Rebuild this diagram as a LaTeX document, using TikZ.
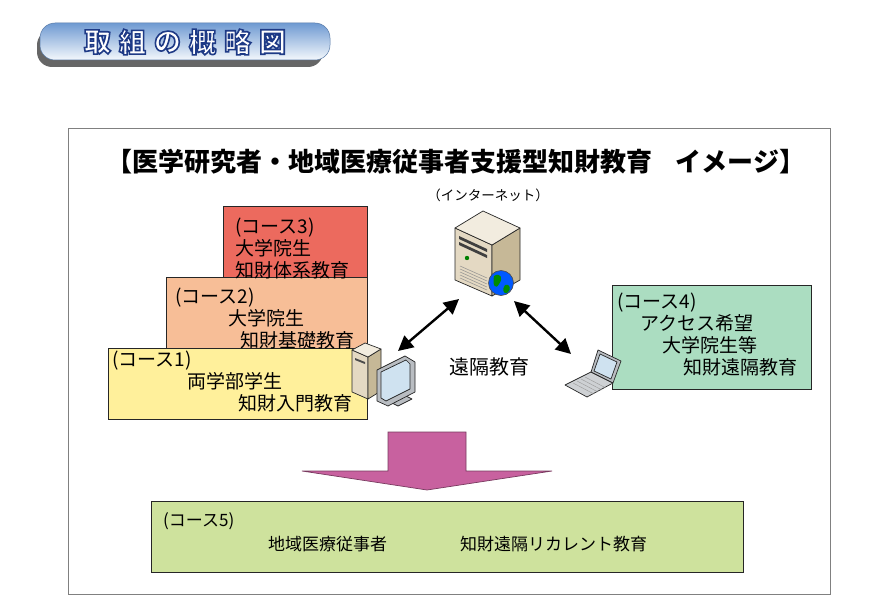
\documentclass[tikz,border=0pt]{standalone}
\usepackage{fontspec}
\newfontfamily\jp{Noto Sans CJK JP}
\usetikzlibrary{calc,arrows.meta}
\definecolor{frame}{HTML}{808080}
\definecolor{tabtop}{HTML}{6F9AD2}
\definecolor{tabmid}{HTML}{B4CDEC}
\definecolor{tabbot}{HTML}{F4F8FC}
\definecolor{tabedge}{HTML}{1E3A86}
\definecolor{cthree}{HTML}{EC6A5E}
\definecolor{ctwo}{HTML}{F7BE97}
\definecolor{cone}{HTML}{FFF09B}
\definecolor{cfour}{HTML}{ABDDC1}
\definecolor{cfive}{HTML}{CEE29D}
\definecolor{pink}{HTML}{C8619F}
\definecolor{beige}{HTML}{E4D9C3}
\definecolor{beigedark}{HTML}{C6B897}
\definecolor{beigetop}{HTML}{F2ECDF}
\definecolor{screen}{HTML}{CFE2F0}
\definecolor{metal}{HTML}{B9BDC2}
% white glyphs with a dark blue stroke (text render mode 2)
\newcommand\outlined[1]{{\color{white}%
  \special{pdf:literal direct 2 Tr 1.6 w 0.118 0.227 0.525 RG}#1%
  \special{pdf:literal direct 0 Tr}}}
\tikzset{
  course/.style={draw=black!85, line width=0.8pt, anchor=north west, inner sep=0pt},
  coursetxt/.style={anchor=north west, align=left, inner sep=0pt,
    font=\jp\fontsize{19}{21.8}\selectfont},
  tabtxt/.style={inner sep=0pt, font=\jp\bfseries\fontsize{27}{27}\selectfont},
  icon/.style={draw=black!85, line width=0.7pt, line join=round},
  link/.style={line width=2.4pt, {Triangle[length=15pt,width=15pt]}-{Triangle[length=15pt,width=15pt]}},
}

\begin{document}
\begin{tikzpicture}[x=1pt,y=-1pt]
  \useasboundingbox[fill=white] (0,0) rectangle (872,599);

  % heading tab
  \fill[black!60, rounded corners=15pt] (37,30) rectangle (323,67);
  \shade[top color=tabtop, middle color=tabmid, bottom color=tabbot,
    rounded corners=15pt] (40,23) rectangle (330,60);
  \draw[tabtop!80!black, line width=0.5pt, rounded corners=15pt] (40,23) rectangle (330,60);
  \foreach \c [count=\i] in {取,組,の,概,略,図}
    \node[tabtxt] (tab\i) at (62.5+35*\i,42) {\outlined{\c}};

  % frame and heading
  \draw[frame, line width=0.8pt] (68,128) rectangle (830,594);
  \node[font=\jp\bfseries\fontsize{26}{26}\selectfont] (title) at (456,162)
    {【医学研究者・地域医療従事者支援型知財教育\hspace{0.9em}イメージ】};
  \node[font=\jp\fontsize{13.5}{13.5}\selectfont] (net) at (488,195) {（インターネット）};

  % course boxes
  \node[course, fill=cthree, minimum width=144, minimum height=71] (c3) at (223,206) {};
  \node[course, fill=ctwo, minimum width=201, minimum height=71] (c2) at (166,277) {};
  \node[course, fill=cone, minimum width=259, minimum height=71] (c1) at (108,348) {};
  \node[course, fill=cfour, minimum width=199, minimum height=104] (c4) at (612,285) {};
  \node[course, fill=cfive, minimum width=592, minimum height=71] (c5) at (151,501) {};

  \node[coursetxt] (c3txt) at (235,218) {(コース3)\\大学院生\\知財体系教育};
  \node[coursetxt] (c2txt) at (175,288) {(コース2)\\\hspace*{53pt}大学院生\\\hspace*{65pt}知財基礎教育};
  \node[coursetxt] (c1txt) at (112,351) {(コース1)\\\hspace*{75pt}両学部学生\\\hspace*{126pt}知財入門教育};
  \node[coursetxt] (c4txt) at (617,293) {(コース4)\\\hspace*{23pt}アクセス希望\\\hspace*{45pt}大学院生等\\\hspace*{66pt}知財遠隔教育};
  \node[coursetxt, font=\jp\fontsize{17}{24}\selectfont] (c5txt) at (163,512)
    {(コース5)\\\hspace*{105pt}地域医療従事者\hspace{73pt}知財遠隔リカレント教育};

  % server
  \begin{scope}[icon]
    \filldraw[fill=beige] (455,228) -- (492,245) -- (492,296) -- (455,280) -- cycle;
    \filldraw[fill=beigedark] (492,245) -- (520,228) -- (520,280) -- (492,296) -- cycle;
    \filldraw[fill=beigetop] (455,228) -- (483,211) -- (520,228) -- (492,245) -- cycle;
  \end{scope}
  \fill[black!75] (459,236) -- (487,249) -- (487,252) -- (459,239) -- cycle;
  \fill[black!75] (459,242) -- (487,255) -- (487,258) -- (459,245) -- cycle;
  \fill[green!50!black] (467,258) circle (2.2);
  \foreach \k in {0,...,4}
    \draw[black!45, line width=0.5pt] (460,266+3*\k) -- (487,278+3*\k);
  \filldraw[fill=blue!65!cyan, draw=black!70, line width=0.6pt] (501,283) circle (12.5);
  \fill[green!55!black] (494,276) .. controls (500,272) and (504,278) .. (499,284)
    .. controls (496,290) and (492,286) .. cycle;
  \fill[green!55!black] (505,285) .. controls (510,283) and (512,290) .. (507,293)
    .. controls (503,294) and (502,289) .. cycle;

  % desktop
  \begin{scope}[icon]
    \filldraw[fill=beige] (352,350) -- (368,357) -- (368,399) -- (352,392) -- cycle;
    \filldraw[fill=beigedark] (368,357) -- (381,349) -- (381,391) -- (368,399) -- cycle;
    \filldraw[fill=beigetop] (352,350) -- (365,343) -- (381,349) -- (368,357) -- cycle;
    \filldraw[fill=metal] (388,401) -- (402,394) -- (412,399) -- (398,406) -- cycle;
    \filldraw[fill=metal] (377,370) -- (405,356) -- (415,362) -- (415,392) -- (388,406) -- (377,401) -- cycle;
    \filldraw[fill=screen] (381,372) -- (406,360) -- (410,364) -- (410,389) -- (386,401) -- (381,398) -- cycle;
  \end{scope}
  \fill[black!70] (355,358) -- (365,362) -- (365,364) -- (355,360) -- cycle;

  % laptop
  \begin{scope}[icon]
    \filldraw[fill=metal!70] (565,385) -- (591,372) -- (613,383) -- (587,397) -- cycle;
    \filldraw[fill=metal] (591,372) -- (598,350) -- (621,361) -- (613,383) -- cycle;
    \filldraw[fill=screen] (594,371) -- (600,354) -- (617,362) -- (611,379) -- cycle;
  \end{scope}
  \foreach \k in {1,...,4}
    \draw[black!40, line width=0.4pt] (569+4*\k,385-2*\k) -- (590+4*\k,396-2*\k);

  % network links
  \coordinate (pcR) at (398,351);
  \coordinate (srvL) at (459,299);
  \coordinate (srvR) at (514,301);
  \coordinate (lapL) at (571,354);
  \draw[link] (pcR) -- (srvL);
  \draw[link] (srvR) -- (lapL);
  \node[font=\jp\fontsize{20}{20}\selectfont] (remote) at (489,367) {遠隔教育};

  % big arrow down to course 5
  \filldraw[fill=pink, draw=pink!60!black, line width=0.7pt]
    (388,432) -- (466,432) -- (466,471) -- (552,471) -- (427,490)
    -- (302,471) -- (388,471) -- cycle;
\end{tikzpicture}
\end{document}
